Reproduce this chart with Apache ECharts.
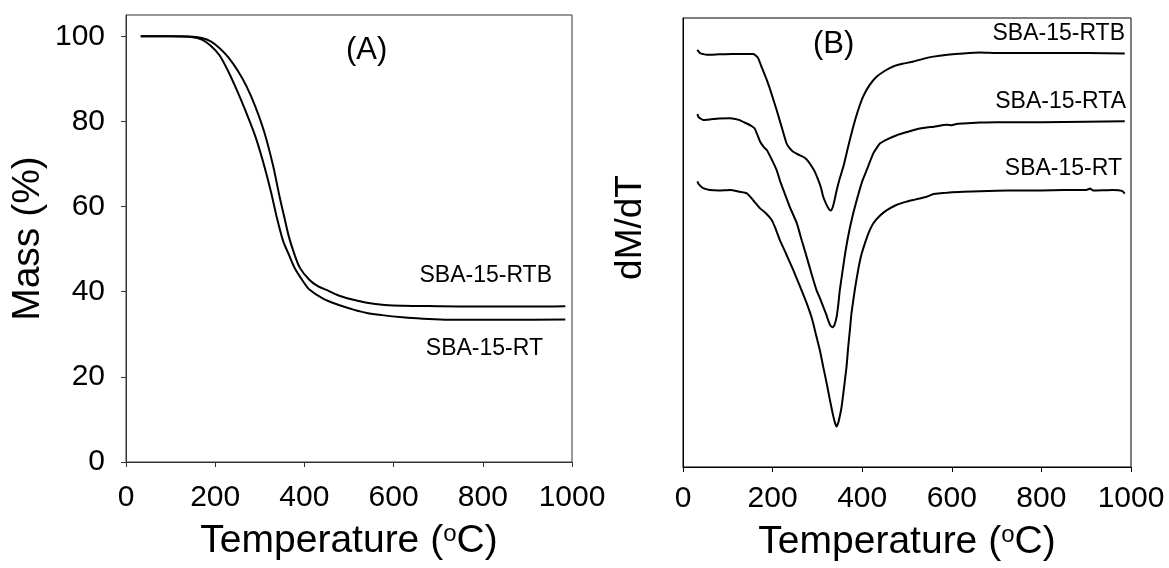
<!DOCTYPE html>
<html><head><meta charset="utf-8">
<script src="https://cdn.jsdelivr.net/npm/echarts@6/dist/echarts.min.js"></script>
<style>html,body{margin:0;padding:0;background:#fff}#c{width:1169px;height:568px}</style>
</head><body><div id="c"></div>
<script>
// ---- data ----
const xTicks = [0, 200, 400, 600, 800, 1000];
const massTicks = [0, 20, 40, 60, 80, 100];

// Panel A: TGA mass (%) vs temperature (°C)
const tgaRTB = [[33,100.0],[100,100.0],[150,99.9],[170,99.6],[190,98.8],[210,97.2],[230,95.0],[250,92.0],[270,88.3],[290,83.5],[310,77.5],[330,69.5],[345,62.0],[355,57.5],[365,53.0],[377,49.0],[390,45.6],[411,42.8],[430,41.3],[454,40.2],[480,39.0],[510,38.1],[540,37.4],[580,36.9],[620,36.7],[700,36.6],[800,36.5],[900,36.5],[985,36.6]];
const tgaRT = [[33,100.0],[100,100.0],[150,99.8],[170,99.2],[190,97.8],[210,95.5],[230,91.6],[250,87.0],[266,83.0],[290,76.5],[308,70.3],[325,63.5],[338,57.5],[352,52.0],[364,49.0],[380,45.2],[400,42.0],[411,40.5],[440,38.5],[471,37.1],[510,35.8],[540,35.0],[574,34.5],[620,34.0],[660,33.7],[750,33.4],[850,33.4],[985,33.5]];

// Panel B: DTG (arbitrary units, offset curves) vs temperature (°C)
const dtgRTB = [[32,92.9],[38,92.2],[53,91.8],[80,91.9],[110,92.0],[140,92.0],[157,92.0],[163,91.6],[168,91.0],[177,88.7],[187,86.2],[198,83.0],[209,79.5],[220,75.8],[231,72.1],[238,71.0],[246,70.2],[257,69.6],[268,69.1],[276,68.5],[283,67.6],[293,66.0],[302,63.9],[308,62.2],[313,60.2],[320,58.5],[326,57.4],[330,57.1],[334,57.8],[338,59.3],[342,61.2],[350,64.3],[358,66.9],[369,71.5],[380,75.8],[391,79.5],[402,82.5],[416,85.0],[432,86.9],[450,88.2],[469,89.2],[490,89.8],[514,90.3],[536,90.9],[559,91.4],[590,91.8],[626,92.1],[663,92.3],[700,92.2],[800,92.2],[900,92.2],[986,92.1]];
const dtgRTA = [[32,78.6],[35,77.9],[45,77.3],[60,77.4],[80,77.6],[105,77.7],[125,77.3],[142,76.5],[152,76.0],[160,75.4],[166,74.0],[172,72.5],[180,71.3],[187,70.6],[198,68.5],[209,66.1],[216,63.9],[224,61.7],[238,58.0],[254,54.3],[265,50.5],[276,46.8],[287,43.0],[298,39.4],[306,37.5],[313,35.7],[319,34.2],[324,32.7],[329,31.5],[334,31.1],[338,31.6],[343,33.5],[347,36.5],[350,39.4],[356,43.5],[362,47.6],[367,50.5],[373,53.5],[380,56.5],[388,59.5],[395,62.0],[401,63.9],[410,66.1],[425,69.9],[440,72.1],[458,73.1],[477,73.9],[500,74.6],[529,75.4],[560,75.8],[589,76.2],[600,76.1],[610,76.4],[626,76.5],[663,76.7],[700,76.8],[800,76.8],[900,76.9],[986,77.0]];
const dtgRT = [[32,63.6],[35,63.0],[45,62.1],[60,61.7],[80,61.6],[105,61.7],[127,61.3],[142,61.0],[150,60.2],[160,59.0],[172,57.6],[185,56.5],[198,55.0],[207,53.0],[216,50.6],[230,47.5],[246,43.9],[260,40.5],[276,36.5],[288,33.0],[298,29.0],[306,25.8],[313,22.3],[321,18.5],[328,14.9],[335,11.5],[340,9.6],[343,9.0],[347,10.0],[351,11.8],[354,13.4],[358,16.5],[362,19.8],[365,22.3],[369,27.0],[373,31.0],[376,34.2],[384,39.8],[391,43.9],[398,47.2],[406,49.8],[415,52.3],[425,54.3],[440,56.0],[455,57.2],[475,58.3],[499,59.1],[520,59.6],[544,60.2],[559,60.8],[580,61.0],[600,61.2],[626,61.3],[663,61.4],[700,61.5],[750,61.6],[800,61.6],[850,61.7],[900,61.7],[909,62.0],[915,61.6],[960,61.7],[980,61.5],[986,60.9]];

const panelALabels = ['(A)', 'SBA-15-RTB', 'SBA-15-RT'];
const panelBLabels = ['(B)', 'SBA-15-RTB', 'SBA-15-RTA', 'SBA-15-RT'];

// ---- chart ----
const FF = '"Liberation Sans", Arial, sans-serif';
const chart = echarts.init(document.getElementById('c'), null, {renderer: 'canvas'});
const lineSeries = (data, xi, smooth) => ({
  type: 'line', xAxisIndex: xi, yAxisIndex: xi, data: data, showSymbol: false, symbol: 'none',
  smooth: smooth, lineStyle: {color: '#000', width: 2}, silent: true, animation: false
});
const tempName = 'Temperature ({s|o}C)';
const nameStyle = (size) => ({fontSize: size, fontFamily: FF, color: '#000',
  rich: {s: {fontSize: 24, fontFamily: FF, color: '#000', verticalAlign: 'top'}}});
const plain = (v) => String(v);

chart.setOption({
  animation: false,
  backgroundColor: '#fff',
  grid: [
    {left: 126, top: 15, width: 446, height: 447, show: true, borderColor: '#333', borderWidth: 1, containLabel: false},
    {left: 683, top: 18, width: 448, height: 449, show: true, borderColor: '#000', borderWidth: 1, containLabel: false}
  ],
  xAxis: [
    {gridIndex: 0, type: 'value', min: 0, max: 1000, interval: 200,
     axisLine: {show: true, lineStyle: {color: '#333', width: 1}},
     axisTick: {show: true, inside: false, length: 5, lineStyle: {color: '#333'}},
     axisLabel: {fontSize: 30, fontFamily: FF, color: '#000', margin: 21, customValues: xTicks, formatter: plain},
     splitLine: {show: false},
     name: tempName, nameLocation: 'middle', nameGap: 60, nameTextStyle: nameStyle(39)},
    {gridIndex: 1, type: 'value', min: 0, max: 1000, interval: 200,
     axisLine: {show: true, lineStyle: {color: '#000', width: 1}},
     axisTick: {show: true, inside: false, length: 5, lineStyle: {color: '#000'}},
     axisLabel: {fontSize: 30, fontFamily: FF, color: '#000', margin: 17, customValues: xTicks, formatter: plain},
     splitLine: {show: false},
     name: tempName, nameLocation: 'middle', nameGap: 56, nameTextStyle: nameStyle(39)}
  ],
  yAxis: [
    {gridIndex: 0, type: 'value', min: 0, max: 105,
     axisLine: {show: true, lineStyle: {color: '#333', width: 1}},
     axisTick: {show: true, inside: false, length: 5, lineStyle: {color: '#333'}, customValues: massTicks},
     axisLabel: {fontSize: 30, fontFamily: FF, color: '#000', margin: 21, customValues: massTicks, formatter: plain},
     splitLine: {show: false},
     name: 'Mass (%)', nameLocation: 'middle', nameGap: 78,
     nameTextStyle: {fontSize: 39, fontFamily: FF, color: '#000'}},
    {gridIndex: 1, type: 'value', min: 0, max: 100,
     axisLine: {show: true, lineStyle: {color: '#000', width: 1}},
     axisTick: {show: false}, axisLabel: {show: false}, splitLine: {show: false},
     name: 'dM/dT', nameLocation: 'middle', nameGap: 34,
     nameTextStyle: {fontSize: 37, fontFamily: FF, color: '#000', padding: [0, 0, 0, 30]}}
  ],
  series: [
    lineSeries(tgaRTB, 0, 0.3),
    lineSeries(tgaRT, 0, 0.3),
    lineSeries(dtgRTB, 1, 0.15),
    lineSeries(dtgRTA, 1, 0.15),
    lineSeries(dtgRT, 1, 0.15)
  ],
  graphic: [
    {type: 'text', left: 346, top: 35, style: {text: panelALabels[0], font: '31px ' + FF, fill: '#000'}},
    {type: 'text', right: 1169 - 552, top: 264, style: {text: panelALabels[1], font: '23px ' + FF, fill: '#000'}},
    {type: 'text', right: 1169 - 543, top: 337, style: {text: panelALabels[2], font: '23px ' + FF, fill: '#000'}},
    {type: 'text', left: 813, top: 29, style: {text: panelBLabels[0], font: '31px ' + FF, fill: '#000'}},
    {type: 'text', right: 1169 - 1125, top: 22, style: {text: panelBLabels[1], font: '23px ' + FF, fill: '#000'}},
    {type: 'text', right: 1169 - 1126, top: 90, style: {text: panelBLabels[2], font: '23px ' + FF, fill: '#000'}},
    {type: 'text', right: 1169 - 1122, top: 157, style: {text: panelBLabels[3], font: '23px ' + FF, fill: '#000'}}
  ]
});
</script>
</body></html>
